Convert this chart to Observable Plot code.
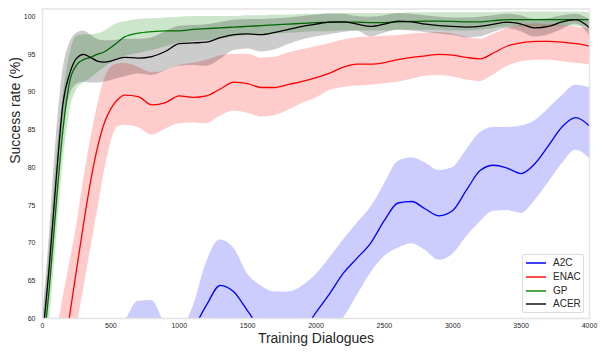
<!DOCTYPE html>
<html><head><meta charset="utf-8">
<script src="https://cdn.jsdelivr.net/npm/d3@7"></script>
<script src="https://cdn.jsdelivr.net/npm/@observablehq/plot@0.6"></script>
<style>
body{margin:0;background:#fff;}
#wrap{position:relative;width:606px;height:354px;font-family:"Liberation Sans",Arial,sans-serif;}
#legend{position:absolute;left:522px;top:254px;width:62px;height:59px;border:1px solid #dcdcdc;border-radius:2px;background:#fff;box-sizing:border-box;}
.row{position:absolute;left:0;height:14px;width:60px;font-size:10px;color:#262626;line-height:14px;}
.sw{position:absolute;left:3px;top:6px;width:20px;height:2px;}
.lb{position:absolute;left:30px;top:0;white-space:nowrap;}
</style></head><body><div id="wrap"></div>
<script>
const dialogues = [0,50,100,150,200,250,300,350,400,450,500,550,600,
  700,800,900,1000,1100,1200,1300,1400,1500,
  1600,1700,1800,1900,2000,2100,2200,2300,2400,2500,
  2600,2700,2800,2900,3000,3100,3200,3300,3400,3500,
  3600,3700,3800,3900,4000];

const a2cMean = [44,44.5,45,45.5,46,47,48,49,50,51,52,53,54,
  55.5,55.5,54.5,55.5,58.5,61.8,64.4,63.5,61.0,
  58.5,57.0,56.8,58.2,60.8,63.3,66.0,68.0,70.0,73.0,
  75.3,75.5,74.5,73.6,74.3,77.0,79.6,80.3,79.9,79.2,
  80.5,82.9,85.4,86.6,85.5];
const a2cLow = [39,39.5,40,40.5,41,42,43,44,45,46,47,48,48.5,
  49,48.5,49.5,52,55.5,56.5,58.4,57.7,56,
  52.7,50.5,50.1,52.1,55.4,58.2,60.0,63.0,66.0,68.2,
  69.3,69.9,69.0,67.7,68.5,70.8,72.8,74.2,74.3,73.9,
  75.6,78.0,80.5,82.3,81.2];
const a2cHigh = [49,49.5,50,50.5,51,52,53,54,55,56,57,58.3,59.5,
  62.3,62.4,59.3,58.5,61.5,67.5,70.4,69.3,65.9,
  64.3,63.5,63.5,64.3,65.8,68.0,70.4,72.6,74.7,77.8,
  80.8,81.3,80.6,79.6,80.0,82.3,84.6,85.3,85.3,85.5,
  86.2,87.8,89.5,90.9,90.6];

const enacMean = [37,43,49,54.6,60.6,66.6,72.5,78,82.5,85.8,87.8,89.0,89.6,
  89.4,88.3,88.6,89.5,89.3,89.5,90.4,91.3,91.1,
  90.6,90.6,91.0,91.4,91.9,92.5,93.3,93.7,93.7,93.9,
  94.3,94.6,94.8,95.0,94.9,94.6,94.4,95.2,96.1,96.5,
  96.7,96.7,96.6,96.4,96.1];
const enacLow = [33,38,43,48.5,53.5,58.7,63.8,69,74,79.2,83.3,85.4,85.6,
  85.3,84.3,85.1,85.8,85.9,85.8,86.8,87.5,87.2,
  86.7,86.9,87.6,88.5,89.2,90.2,90.6,90.8,90.9,91.1,
  91.3,91.7,92.1,92.2,92.0,91.6,91.4,92.3,93.4,94.0,
  94.2,94.2,94.0,93.8,93.6];
const enacHigh = [45,51,57.5,62.7,67.5,72.3,78.3,83.5,88,91.5,93.3,93.7,93.8,
  93.3,92.6,92.8,93.5,93.8,94.2,94.8,95.0,95.0,
  94.5,94.6,95.2,95.6,96.0,96.4,96.9,97.2,97.3,97.4,
  97.5,97.7,97.8,97.9,97.7,97.3,97.0,97.7,98.4,98.8,
  99.0,98.9,98.8,98.6,98.4];

const gpMean = [55.5,64,75,85,91.5,93.6,94.3,94.6,95.0,95.3,95.9,96.6,97.3,
  97.8,98.0,98.1,98.1,98.3,98.4,98.5,98.6,98.7,
  98.8,98.9,99.0,99.1,99.2,99.25,99.25,99.25,99.2,99.2,
  99.3,99.35,99.4,99.4,99.35,99.3,99.3,99.45,99.6,99.6,
  99.6,99.6,99.6,99.6,99.6];
const gpLow = [52,59.5,70,80.5,87.5,90.3,91.2,91.8,92.5,93.2,93.8,94.3,94.7,
  95.1,95.5,96.0,96.5,96.7,96.8,97.0,97.3,97.5,
  97.6,97.7,97.8,97.9,98.0,98.0,98.1,98.1,98.1,98.1,
  98.2,98.2,98.2,98.2,98.1,98.1,98.2,98.4,98.6,98.6,
  98.6,98.6,98.7,98.7,98.7];
const gpHigh = [59,69,80.5,89.5,95,97.4,97.6,97.6,97.7,98.0,98.6,99.1,99.3,
  99.6,99.7,99.8,99.9,100.0,100.0,100.0,100.0,100.1,
  100.1,100.2,100.2,100.3,100.3,100.4,100.4,100.4,100.4,100.4,
  100.4,100.5,100.5,100.5,100.5,100.5,100.5,100.5,100.6,100.6,
  100.6,100.6,100.6,100.6,100.5];

const acerMean = [57.5,67,78.5,88.5,92.5,94.5,95.0,94.6,94.1,93.95,94.1,94.4,94.6,
  94.5,94.7,95.4,96.4,96.5,96.6,97.2,97.6,97.7,
  97.6,97.9,98.3,98.7,99.0,99.25,99.3,99.0,98.7,99.0,
  99.4,99.3,99.0,98.8,98.7,98.6,98.7,99.0,99.25,99.0,
  98.5,98.7,99.3,99.6,98.5];
const acerLow = [55,63,74,84.5,89.5,91,91.3,91.2,91.2,91.3,91.5,91.8,92.0,
  92.4,92.2,92.8,93.4,93.5,93.4,94.3,95.5,95.7,
  95.3,95.6,96.3,96.9,97.3,97.6,97.9,98.1,97.3,97.8,
  98.2,98.1,97.9,97.7,97.5,97.2,97.3,97.9,98.4,98.0,
  97.3,97.6,98.3,99.0,97.5];
const acerHigh = [60,71,84,93,96.5,97.8,98.1,97.6,97.0,96.8,96.8,96.9,97.0,
  97.0,97.2,98.0,98.7,98.8,98.9,99.2,99.5,99.6,
  99.6,99.7,99.8,100.0,100.2,100.3,100.3,100.0,99.9,100.1,
  100.4,100.3,100.1,99.9,99.8,99.8,99.9,100.1,100.3,100.1,
  99.6,99.7,100.1,100.3,99.6];

const seriesNames = ["A2C","ENAC","GP","ACER"];
const seriesColors = ["#0000ff","#ff0000","#008000","#000000"];
const legendColors = ["#3f3fff","#ff4d4d","#4da64d","#4d4d4d"];
const xTicks = [0,500,1000,1500,2000,2500,3000,3500,4000];
const yTicks = [60,65,70,75,80,85,90,95,100];

const seriesData = [
  [a2cMean,a2cLow,a2cHigh],
  [enacMean,enacLow,enacHigh],
  [gpMean,gpLow,gpHigh],
  [acerMean,acerLow,acerHigh]
].map(([m,l,h],k) => dialogues.map((x,i) => ({x, mean:m[i], low:l[i], high:h[i], name:seriesNames[k]})));

const marks = [];
seriesData.forEach((rows,k) => {
  marks.push(Plot.areaY(rows, {x:"x", y1:"low", y2:"high", fill:seriesColors[k], fillOpacity:0.2, curve:"monotone-x", clip:true}));
  marks.push(Plot.lineY(rows, {x:"x", y:"mean", stroke:seriesColors[k], strokeWidth:1.3, curve:"monotone-x", clip:true}));
});
marks.push(Plot.frame({stroke:"#e3e3e3", strokeWidth:1.5}));
marks.push(Plot.axisX({ticks:xTicks, tickFormat:d => String(d), tickSize:0, tickPadding:5, label:null, fontSize:7}));
marks.push(Plot.axisY({ticks:yTicks, tickFormat:d => String(d), tickSize:0, tickPadding:7, label:null, fontSize:7}));
marks.push(Plot.text(["Training Dialogues"], {frameAnchor:"bottom", dy:24, fontSize:14, fill:"#262626"}));
marks.push(Plot.text(["Success rate (%)"], {frameAnchor:"left", dx:-27, rotate:-90, fontSize:14, fill:"#262626"}));

const chart = Plot.plot({
  width:606, height:354,
  marginLeft:42, marginRight:17, marginTop:8.5, marginBottom:36,
  x:{domain:[0,4000]},
  y:{domain:[60,101]},
  style:{fontFamily:"Liberation Sans, Arial, sans-serif", color:"#262626", background:"#fff"},
  marks
});
const wrap = document.getElementById("wrap");
wrap.appendChild(chart);

const legend = document.createElement("div");
legend.id = "legend";
seriesNames.forEach((n,k) => {
  const row = document.createElement("div");
  row.className = "row";
  row.style.top = (1 + k*13.8) + "px";
  const sw = document.createElement("div");
  sw.className = "sw";
  sw.style.background = legendColors[k];
  const lb = document.createElement("span");
  lb.className = "lb";
  lb.textContent = n;
  row.appendChild(sw); row.appendChild(lb);
  legend.appendChild(row);
});
wrap.appendChild(legend);
</script></body></html>
